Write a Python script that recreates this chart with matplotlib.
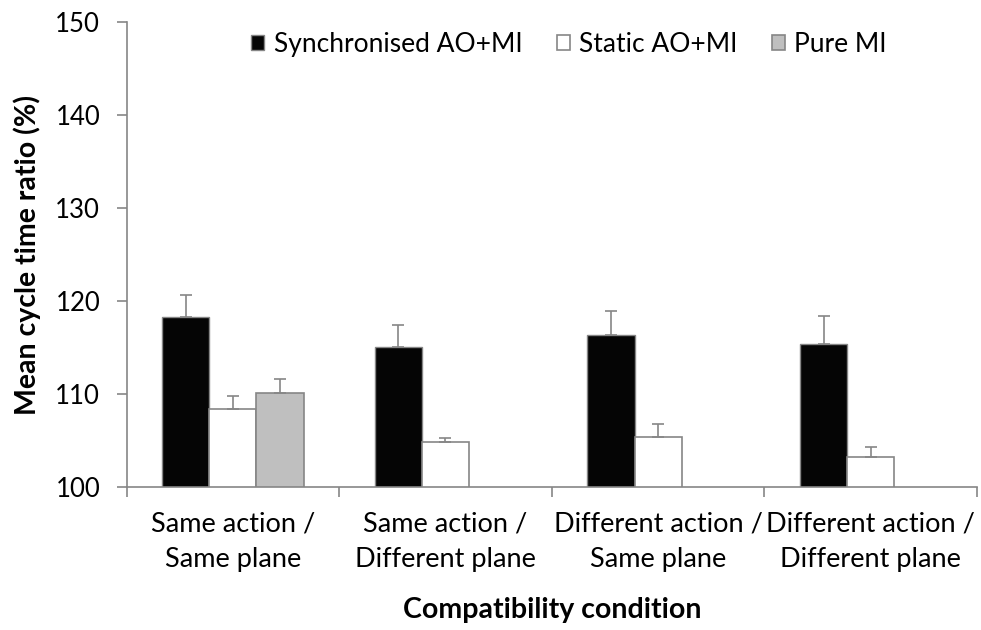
import numpy as np
import matplotlib.pyplot as plt
from matplotlib.ticker import FixedLocator

plt.rcParams['font.family'] = ['Lato', 'DejaVu Sans']

# values
categories = ['Same action /\nSame plane', 'Same action /\nDifferent plane',
              'Different action /\nSame plane', 'Different action /\nDifferent plane']
sync = [118.3, 115.1, 116.3, 115.4]
sync_err = [2.3, 2.3, 2.6, 3.0]
static = [108.4, 104.8, 105.4, 103.2]
static_err = [1.4, 0.5, 1.4, 1.1]
pure = [110.1]
pure_err = [1.5]

gray = '#868686'
fig = plt.figure(figsize=(9.81, 6.30), dpi=100)
ax = fig.add_axes([0.129, 0.227, 0.867, 0.738])

x = np.arange(len(categories))
w = 0.222
ekw = dict(ecolor=gray, elinewidth=1.2, capsize=4, capthick=1.2)

ax.bar(x - w, sync, w, color='#050505', edgecolor=gray, linewidth=1,
       yerr=[np.zeros(len(sync)), sync_err], error_kw=ekw,
       label='Synchronised AO+MI', zorder=2)
ax.bar(x, static, w, color='white', edgecolor=gray, linewidth=1.2,
       yerr=[np.zeros(len(static)), static_err], error_kw=ekw,
       label='Static AO+MI', zorder=2)
ax.bar(x[:len(pure)] + w, pure, w, color='#bfbfbf', edgecolor=gray, linewidth=1.2,
       yerr=[np.zeros(len(pure)), pure_err], error_kw=ekw,
       label='Pure MI', zorder=2)

ax.set_ylim(100, 150)
ax.set_yticks(np.arange(100, 151, 10))
ax.set_xlim(-0.5, len(categories) - 0.5)

# category boundaries as tick marks, labels centred under each group
ax.xaxis.set_major_locator(FixedLocator(np.arange(-0.5, len(categories), 1)))
ax.xaxis.set_major_formatter(plt.NullFormatter())
ax.set_xticks(x, minor=True)
ax.set_xticklabels(categories, minor=True, fontsize=19.5, linespacing=1.5)
ax.tick_params(axis='x', which='minor', length=0, pad=18)
ax.tick_params(axis='x', which='major', length=7, color=gray, width=1.2, direction='out')
ax.tick_params(axis='y', length=7, color=gray, width=1.2, labelsize=18.5, pad=12)

for s in ['top', 'right']:
    ax.spines[s].set_visible(False)
for s in ['left', 'bottom']:
    ax.spines[s].set_color(gray)
    ax.spines[s].set_linewidth(1.2)

ax.set_ylabel('Mean cycle time ratio (%)', fontsize=20.5, fontweight='bold', labelpad=10)
ax.set_xlabel('Compatibility condition', fontsize=20.5, fontweight='bold', labelpad=18)

fig.legend(loc='center', bbox_to_anchor=(0.58, 0.929), ncol=3, frameon=False,
           fontsize=19, handlelength=0.5, handleheight=0.5, handletextpad=0.35,
           columnspacing=1.3)

fig.savefig('out.png', dpi=100)
